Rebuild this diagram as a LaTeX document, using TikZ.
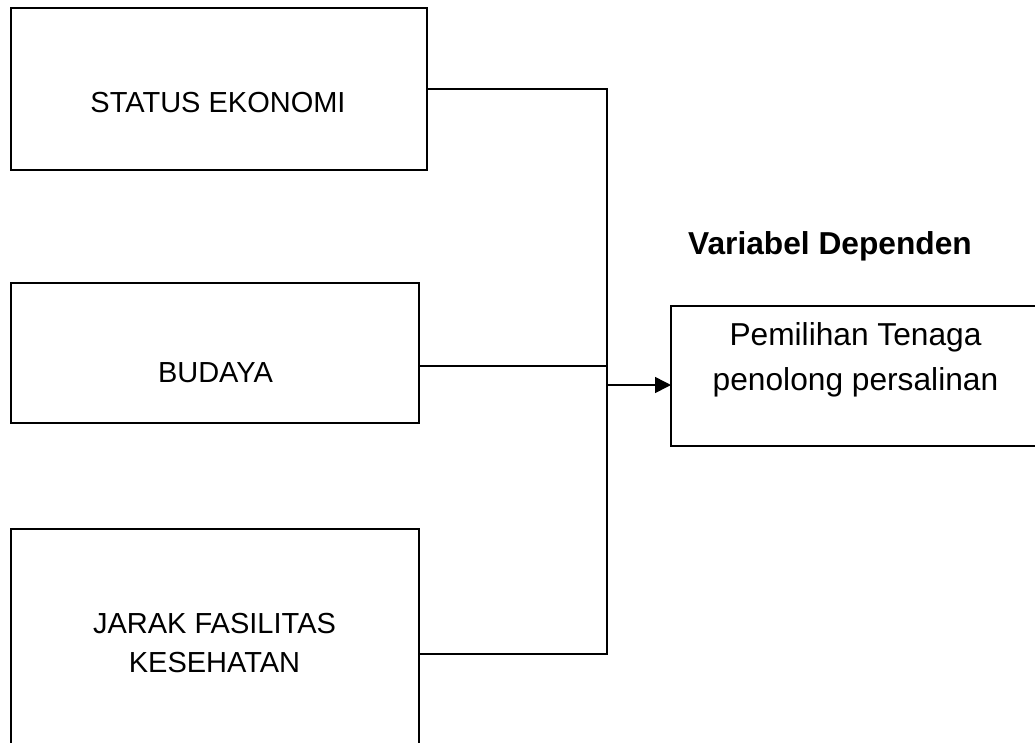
\documentclass[tikz,border=0pt]{standalone}
\usepackage{fontspec}
\setmainfont{Liberation Sans}
\usetikzlibrary{arrows.meta}
\begin{document}
\begin{tikzpicture}[x=1pt,y=-1pt,
  box/.style={draw, line width=1.5pt, inner sep=0pt, outer sep=0pt},
  lab/.style={anchor=base, align=center, inner sep=0pt, font=\fontsize{29}{39}\selectfont},
  labr/.style={anchor=base, align=center, inner sep=0pt, font=\fontsize{31.7}{45}\selectfont},
  conn/.style={line width=1.5pt}]
\useasboundingbox (0,0) rectangle (1035,742);
\clip (0,0) rectangle (1035,742);
\fill[white] (0,0) rectangle (1035,742);
% boxes
\node[box, minimum width=416pt, minimum height=162pt] (b1) at (219,89) {};
\node[box, minimum width=408pt, minimum height=140pt] (b2) at (215,353) {};
\node[box, minimum width=408pt, minimum height=231pt] (b3) at (215,644.5) {};
\node[box, minimum width=374pt, minimum height=140pt] (tgt) at (858,376) {};
% labels
\node[lab] (t1) at (218,112) {STATUS EKONOMI};
\node[lab] (t2) at (215.5,382) {BUDAYA};
\node[lab] (t3) at (214.5,672) {JARAK FASILITAS\\KESEHATAN};
\node[labr] (t4) at (855.5,390) {Pemilihan Tenaga\\penolong persalinan};
\node[anchor=base, inner sep=0pt, font=\fontsize{31.7}{38}\selectfont\bfseries] (dep) at (830,254) {Variabel Dependen};
% connectors
\coordinate (jt) at (607,89);
\coordinate (j2) at (607,366);
\coordinate (jb) at (607,654);
\coordinate (ja) at (607,385);
\draw[conn] (b1.east) -- (jt) -- (jb) -- (b3.east |- jb);
\draw[conn] (b2.east |- j2) -- (j2);
\draw[conn, -{Triangle[length=16pt,width=16pt]}] (ja) -- (ja -| tgt.west);
\end{tikzpicture}
\end{document}
